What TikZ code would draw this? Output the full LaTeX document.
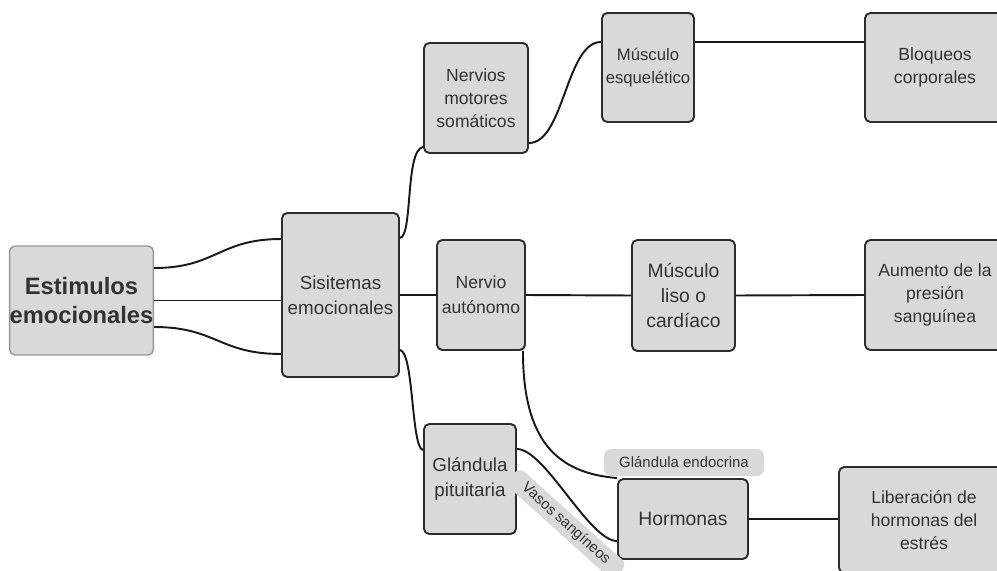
\documentclass[tikz,border=0pt]{standalone}
\usepackage{fontspec}
\setmainfont{Liberation Sans}
\usepackage{xcolor}
\definecolor{boxfill}{RGB}{217,217,217}
\definecolor{boxline}{RGB}{45,45,45}
\definecolor{softline}{RGB}{150,150,150}
\definecolor{txt}{RGB}{50,50,50}
\tikzset{
  box/.style={draw=boxline, fill=boxfill, line width=1.1pt, rounded corners=3pt,
    align=center, text=txt, font=\fontsize{10}{13}\selectfont, inner sep=2pt},
  tag/.style={fill=boxfill, rounded corners=4pt, text=txt,
    font=\fontsize{8.5}{10}\selectfont, inner sep=2pt},
  link/.style={line width=1.1pt, black!90},
}
\begin{document}
\begin{tikzpicture}[x=0.02cm, y=-0.02cm]
\clip (0,0) rectangle (997,571);

% origen
\node[box, draw=softline, line width=0.8pt, inner xsep=0pt, minimum width=2.86cm, minimum height=2.18cm,
  font=\fontsize{13.5}{16}\selectfont\bfseries] (est) at (81.5,300.5) {Estimulos\\emocionales};
\node[box, minimum width=2.34cm, minimum height=3.28cm,
  font=\fontsize{10.7}{14}\selectfont] (sis) at (340.5,295) {Sisitemas\\emocionales};

% rama superior
\node[box, minimum width=2.08cm, minimum height=2.2cm] (nmot) at (476,98) {Nervios\\motores\\somáticos};
\node[box, inner xsep=0pt, minimum width=1.84cm, minimum height=2.18cm,
  font=\fontsize{9.5}{13.5}\selectfont] (mesq) at (648,67.5) {Músculo\\esquelético};
\node[box, minimum width=2.8cm, minimum height=2.18cm] (bloq) at (935,67.5) {Bloqueos\\corporales};

% rama media
\node[box, inner xsep=0pt, minimum width=1.76cm, minimum height=2.2cm,
  font=\fontsize{10}{14}\selectfont] (naut) at (481,295) {Nervio\\autónomo};
\node[box, minimum width=2.06cm, minimum height=2.22cm,
  font=\fontsize{11}{14}\selectfont] (mliso) at (683.5,295.5) {Músculo\\liso o\\cardíaco};
\node[box, minimum width=2.8cm, minimum height=2.2cm] (aum) at (935,295) {Aumento de la\\presión\\sanguínea};

% rama inferior
\node[box, minimum width=1.84cm, minimum height=2.2cm,
  font=\fontsize{10.7}{14}\selectfont] (pit) at (470,479) {Glándula\\pituitaria};
\node[box, minimum width=2.6cm, minimum height=1.6cm,
  font=\fontsize{11}{14}\selectfont] (horm) at (683,519) {Hormonas};
\node[box, minimum width=3.4cm, minimum height=2.12cm] (lib) at (924,520) {Liberación de\\hormonas del\\estrés};

% conexiones
\draw[link] ([yshift=0.65cm]est.east) .. controls +(62,0) and +(-62,0) .. ([yshift=1.12cm]sis.west);
\draw[link] (est.east) -- (est.east -| sis.west);
\draw[link] ([yshift=-0.53cm]est.east) .. controls +(62,0) and +(-62,0) .. ([yshift=-1.18cm]sis.west);

\draw[link] ([yshift=1.14cm]sis.east) .. controls +(13,-2) and +(-18,3) .. ([yshift=-0.98cm]nmot.west);
\draw[link] (sis.east) -- (naut.west);
\draw[link] ([yshift=-1.1cm]sis.east) .. controls +(14,2) and +(-12,-2) .. ([yshift=0.58cm]pit.west);

\draw[link] ([yshift=-0.9cm]nmot.east) .. controls +(35,0) and +(-35,0) .. ([yshift=0.51cm]mesq.west);
\draw[link] ([yshift=0.51cm]mesq.east) -- ([yshift=0.51cm]bloq.west);

\draw[link] (naut.east) -- (mliso.west);
\draw[link] (mliso.east) -- (aum.west);
\draw[link] ([xshift=-0.06cm]naut.south east) .. controls +(0,90) and +(-60,-5) .. (horm.north west);

\draw[link] ([yshift=0.6cm]pit.east) .. controls +(28,0) and +(-28,0) .. ([yshift=-0.44cm]horm.west);
\draw[link] (horm.east) -- (horm.east -| lib.west);

% etiquetas
\node[tag, minimum width=3.2cm, minimum height=0.54cm] (endo) at (684,462.5) {Glándula endocrina};
\node[tag, rotate=-42, minimum width=2.9cm, minimum height=0.44cm] (vasos) at (566,524) {Vasos sangíneos};
\end{tikzpicture}
\end{document}
